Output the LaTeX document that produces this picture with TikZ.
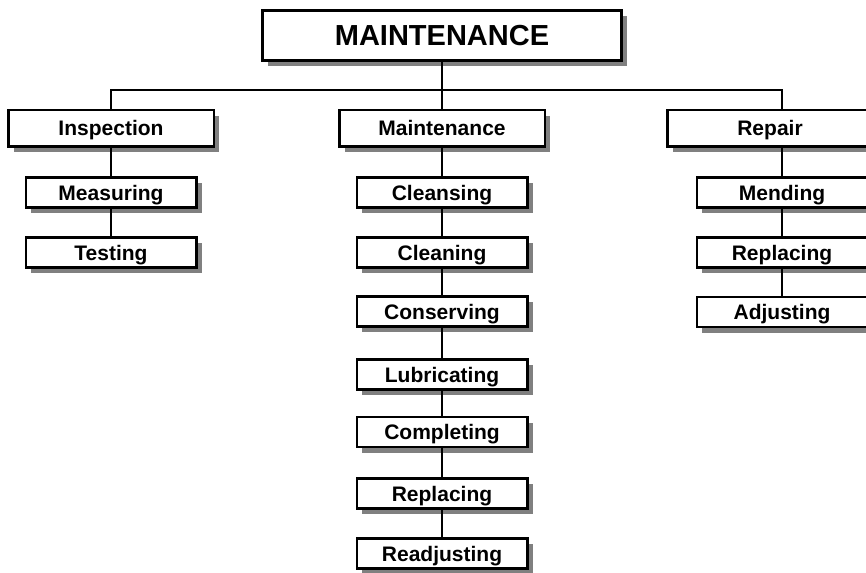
\documentclass[tikz,border=0pt]{standalone}
\usepackage{fontspec}
\setmainfont{Liberation Sans}
\usetikzlibrary{shadows}

\tikzset{
  box/.style={draw, line width=2.5pt, fill=white, inner sep=0pt,
    text height=15pt, text depth=0pt,
    font=\fontsize{21}{24}\selectfont\bfseries,
    drop shadow={shadow xshift=5.5pt, shadow yshift=-5.5pt, fill=black!50, opacity=1}},
  topbox/.style={box, line width=3pt, minimum width=359pt, minimum height=50pt,
    text height=21pt, font=\fontsize{29}{34}\selectfont\bfseries},
  mainbox/.style={box, minimum width=205.5pt, minimum height=36.5pt},
  subbox/.style={box, minimum width=170.5pt, minimum height=30pt},
  wire/.style={line width=2pt}
}

\begin{document}
\begin{tikzpicture}[x=1pt, y=-1pt]
				\useasboundingbox (0, 0) rectangle (866, 572);
				% Top and first level:
				\node[topbox] (top) at (442, 35.5){MAINTENANCE};
				\node[mainbox] (inspection) at (111, 128.5){Inspection};
				\node[mainbox] (maintenance) at (442, 128.5){Maintenance};
				\node[mainbox] (repair) at (770, 128.5){Repair};
				\coordinate (bar) at (442, 90);
				% Inspection column:
				\node[subbox] (measuring) at (111, 192.5){Measuring};
				\node[subbox] (testing) at (111, 252.5){Testing};
				% Maintenance column:
				\node[subbox] (cleansing) at (442, 192.5){Cleansing};
				\node[subbox] (cleaning) at (442, 252.5){Cleaning};
				\node[subbox] (conserving) at (442, 311.5){Conserving};
				\node[subbox] (lubricating) at (442, 374.5){Lubricating};
				\node[subbox] (completing) at (442, 432){Completing};
				\node[subbox] (replacingM) at (442, 493.5){Replacing};
				\node[subbox] (readjusting) at (442, 553.5){Readjusting};
				% Repair column:
				\node[subbox] (mending) at (782, 192.5){Mending};
				\node[subbox] (replacingR) at (782, 252.5){Replacing};
				\node[subbox] (adjusting) at (782, 312){Adjusting};
				% Wires:
				\draw[wire] (top) -- (bar);
				\draw[wire] (inspection) |- (bar) -| (mending |- repair.north);
				\draw[wire] (bar) -- (maintenance);
				\draw[wire] (inspection) -- (measuring) -- (testing);
				\draw[wire] (maintenance) -- (cleansing) -- (cleaning) -- (conserving) -- (lubricating) -- (completing) -- (replacingM) -- (readjusting);
				\draw[wire] (mending |- repair.south) -- (mending) -- (replacingR) -- (adjusting);
			\end{tikzpicture}
\end{document}
